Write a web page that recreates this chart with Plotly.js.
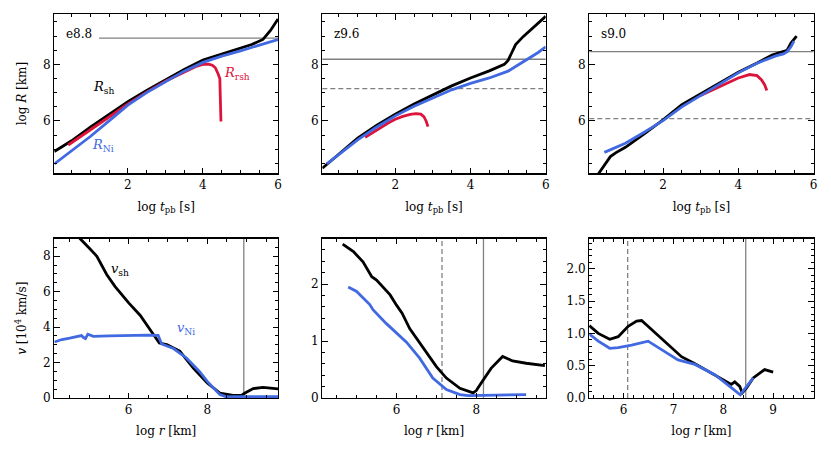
<!DOCTYPE html>
<html>
<head>
<meta charset="utf-8">
<script src="https://cdn.plot.ly/plotly-3.0.1.min.js"></script>
<style>html,body{margin:0;padding:0;background:#fff;}#chart{width:831px;height:456px;}</style>
</head>
<body>
<div id="chart"></div>
<script>
// ---------- data: top row, log R vs log t_pb ----------
const t_e88_sh  = [0.04, 0.5, 1.0, 1.5, 2.0, 2.5, 3.0, 3.5, 4.0, 4.5, 5.0, 5.3, 5.6, 5.8, 6.0];
const R_e88_sh  = [4.92, 5.30, 5.78, 6.22, 6.68, 7.08, 7.45, 7.82, 8.15, 8.36, 8.56, 8.70, 8.88, 9.20, 9.60];
const t_e88_ni  = [0.04, 0.5, 1.0, 1.5, 2.0, 2.5, 3.0, 3.5, 4.0, 4.5, 5.0, 5.5, 6.0];
const R_e88_ni  = [4.48, 4.95, 5.45, 6.00, 6.56, 7.00, 7.39, 7.76, 8.07, 8.29, 8.48, 8.68, 8.88];
const t_e88_rsh = [0.41, 1.0, 1.5, 2.0, 2.5, 3.0, 3.5, 3.8, 4.0, 4.15, 4.25, 4.33, 4.4, 4.45, 4.48];
const R_e88_rsh = [5.15, 5.70, 6.14, 6.60, 7.02, 7.40, 7.74, 7.92, 8.00, 8.01, 7.97, 7.88, 7.68, 7.50, 5.98];

const t_z96_sh  = [0.06, 0.5, 1.0, 1.5, 2.0, 2.5, 3.0, 3.5, 4.0, 4.5, 4.9, 5.0, 5.1, 5.2, 5.4, 5.6, 5.8, 6.0];
const R_z96_sh  = [4.33, 4.84, 5.39, 5.84, 6.24, 6.60, 6.92, 7.24, 7.52, 7.77, 8.00, 8.14, 8.42, 8.70, 8.98, 9.22, 9.46, 9.70];
const t_z96_ni  = [0.18, 0.5, 1.0, 1.5, 2.0, 2.5, 3.0, 3.5, 4.0, 4.5, 5.0, 5.5, 5.8, 6.0];
const R_z96_ni  = [4.48, 4.82, 5.33, 5.78, 6.18, 6.52, 6.82, 7.10, 7.33, 7.52, 7.76, 8.17, 8.42, 8.62];
const t_z96_rsh = [1.2, 1.5, 1.8, 2.0, 2.2, 2.4, 2.55, 2.68, 2.76, 2.82, 2.87];
const R_z96_rsh = [5.42, 5.68, 5.92, 6.06, 6.16, 6.23, 6.26, 6.24, 6.15, 6.00, 5.80];

const t_s90_sh  = [0.24, 0.45, 0.6, 0.75, 1.0, 1.5, 2.0, 2.5, 3.0, 3.5, 4.0, 4.5, 4.9, 5.1, 5.3, 5.4, 5.55];
const R_s90_sh  = [4.05, 4.45, 4.74, 4.88, 5.07, 5.54, 6.04, 6.58, 6.95, 7.33, 7.72, 8.05, 8.33, 8.42, 8.50, 8.75, 9.00];
const t_s90_ni  = [0.44, 1.0, 1.5, 2.0, 2.5, 3.0, 3.5, 4.0, 4.5, 5.0, 5.2, 5.3, 5.4, 5.48];
const R_s90_ni  = [4.89, 5.21, 5.60, 6.01, 6.50, 6.90, 7.30, 7.70, 8.04, 8.30, 8.37, 8.45, 8.62, 8.82];
const t_s90_rsh = [3.0, 3.5, 4.0, 4.3, 4.5, 4.62, 4.7, 4.76];
const R_s90_rsh = [6.90, 7.22, 7.52, 7.64, 7.60, 7.45, 7.28, 7.08];

// ---------- data: bottom row, v vs log r ----------
const r_e88_sh = [4.7, 4.76, 5.0, 5.19, 5.44, 5.65, 6.0, 6.29, 6.63, 6.78, 6.97, 7.3, 7.64, 8.0, 8.32, 8.66, 8.87, 8.96, 9.17, 9.42, 9.8];
const v_e88_sh = [9.2, 9.0, 8.45, 8.0, 6.97, 6.3, 5.37, 4.67, 3.58, 3.1, 3.01, 2.64, 1.7, 0.85, 0.28, 0.15, 0.14, 0.28, 0.53, 0.6, 0.51];
const r_e88_ni = [4.11, 4.3, 4.5, 4.7, 4.8, 4.86, 4.9, 4.96, 5.1, 5.5, 6.0, 6.5, 6.75, 6.8, 6.84, 7.14, 7.47, 7.8, 8.0, 8.32, 8.49, 8.7, 9.8];
const v_e88_ni = [3.16, 3.30, 3.38, 3.45, 3.52, 3.40, 3.35, 3.60, 3.48, 3.50, 3.54, 3.55, 3.54, 3.30, 3.05, 2.79, 2.26, 1.50, 0.94, 0.19, 0.06, 0.08, 0.08];

const r_z96_sh = [4.65, 4.92, 5.16, 5.38, 5.50, 5.84, 6.00, 6.14, 6.33, 6.67, 7.00, 7.25, 7.59, 7.92, 8.00, 8.12, 8.37, 8.66, 8.91, 9.25, 9.72];
const v_z96_sh = [2.70, 2.57, 2.39, 2.13, 2.07, 1.81, 1.63, 1.49, 1.22, 0.87, 0.55, 0.35, 0.17, 0.09, 0.13, 0.26, 0.52, 0.73, 0.65, 0.61, 0.57];
const r_z96_ni = [4.79, 5.00, 5.33, 5.41, 5.74, 6.25, 6.58, 6.91, 7.25, 7.59, 7.80, 8.44, 9.25];
const v_z96_ni = [1.95, 1.87, 1.64, 1.55, 1.31, 0.98, 0.70, 0.35, 0.15, 0.06, 0.04, 0.05, 0.06];

const r_s90_sh = [5.31, 5.49, 5.72, 5.89, 6.09, 6.26, 6.36, 6.56, 6.83, 7.16, 7.43, 7.83, 8.16, 8.23, 8.33, 8.38, 8.46, 8.6, 8.83, 9.0];
const v_s90_sh = [1.12, 1.00, 0.91, 0.95, 1.11, 1.19, 1.20, 1.06, 0.88, 0.64, 0.53, 0.36, 0.21, 0.25, 0.18, 0.08, 0.15, 0.31, 0.44, 0.40];
const r_s90_ni = [5.31, 5.49, 5.72, 5.89, 6.16, 6.49, 6.76, 7.09, 7.43, 7.83, 8.16, 8.34, 8.43, 8.6];
const v_s90_ni = [0.99, 0.88, 0.77, 0.78, 0.82, 0.88, 0.75, 0.59, 0.52, 0.36, 0.16, 0.05, 0.14, 0.31];

// reference radii (log km): solid and dashed
const models     = ["e8.8", "z9.6", "s9.0"];
const refSolid   = [8.93, 8.18, 8.45];
const refDashed  = [null, 7.14, 6.08];

const BLACK = "#000000", BLUE = "#4169E1", RED = "#DC143C", GREY = "#808080";
const FONT = "DejaVu Serif, Liberation Serif, serif";

function tr(x, y, color, xa, ya, w) {
  return {x: x, y: y, type: "scatter", mode: "lines", xaxis: xa, yaxis: ya,
          line: {color: color, width: w || 2.8}, showlegend: false, hoverinfo: "skip"};
}

const data = [
  tr(t_e88_sh, R_e88_sh, BLACK, "x", "y"),
  tr(t_e88_rsh, R_e88_rsh, RED, "x", "y"),
  tr(t_e88_ni, R_e88_ni, BLUE, "x", "y"),
  tr(t_z96_sh, R_z96_sh, BLACK, "x2", "y2"),
  tr(t_z96_rsh, R_z96_rsh, RED, "x2", "y2"),
  tr(t_z96_ni, R_z96_ni, BLUE, "x2", "y2"),
  tr(t_s90_sh, R_s90_sh, BLACK, "x3", "y3"),
  tr(t_s90_rsh, R_s90_rsh, RED, "x3", "y3"),
  tr(t_s90_ni, R_s90_ni, BLUE, "x3", "y3"),
  tr(r_e88_sh, v_e88_sh, BLACK, "x4", "y4"),
  tr(r_e88_ni, v_e88_ni, BLUE, "x4", "y4"),
  tr(r_z96_sh, v_z96_sh, BLACK, "x5", "y5"),
  tr(r_z96_ni, v_z96_ni, BLUE, "x5", "y5"),
  tr(r_s90_sh, v_s90_sh, BLACK, "x6", "y6"),
  tr(r_s90_ni, v_s90_ni, BLUE, "x6", "y6")
];

const W = 831, H = 456;
const colX = [[54.3, 278], [322.3, 545.7], [589.3, 813.5]];
const rowTop = [14, 173.3], rowBot = [238.5, 398];
const TF = {family: FONT, size: 12, color: "#000"};

function mn(d) { return {dtick: d, ticks: "inside", ticklen: 3, tickwidth: 1, tickcolor: "#000"}; }
function ax(extra) {
  return Object.assign({
    showline: true, linecolor: "#000", linewidth: 1.2, mirror: "allticks",
    ticks: "inside", ticklen: 5.5, tickwidth: 1, tickcolor: "#000",
    showgrid: false, zeroline: false,
    tickfont: {family: FONT, size: 12, color: "#000"}
  }, extra);
}
function dom(c) { return [colX[c][0] / W, colX[c][1] / W]; }
function ydom(r) { return [1 - r[1] / H, 1 - r[0] / H]; }

const xTopTitle = "log <i>t</i><sub>pb</sub> [s]";
const xBotTitle = "log <i>r</i> [km]";

const layout = {
  width: W, height: H, margin: {l: 0, r: 0, t: 0, b: 0},
  paper_bgcolor: "#fff", plot_bgcolor: "#fff",
  font: {family: FONT, size: 12, color: "#000"},
  xaxis:  ax({domain: dom(0), anchor: "y",  range: [0.04, 6], dtick: 2, minor: mn(0.5), title: {text: xTopTitle, standoff: 11, font: TF}}),
  xaxis2: ax({domain: dom(1), anchor: "y2", range: [0.06, 6], dtick: 2, minor: mn(0.5), title: {text: xTopTitle, standoff: 11, font: TF}}),
  xaxis3: ax({domain: dom(2), anchor: "y3", range: [0.04, 6], dtick: 2, minor: mn(0.5), title: {text: xTopTitle, standoff: 11, font: TF}}),
  yaxis:  ax({domain: ydom(rowTop), anchor: "x",  range: [4.15, 9.78], dtick: 2, minor: mn(0.5), title: {text: "log <i>R</i> [km]", standoff: 13, font: TF}}),
  yaxis2: ax({domain: ydom(rowTop), anchor: "x2", range: [4.15, 9.78], dtick: 2, minor: mn(0.5)}),
  yaxis3: ax({domain: ydom(rowTop), anchor: "x3", range: [4.15, 9.78], dtick: 2, minor: mn(0.5)}),
  xaxis4: ax({domain: dom(0), anchor: "y4", range: [4.107, 9.8], dtick: 2, minor: mn(0.5), title: {text: xBotTitle, standoff: 11, font: TF}}),
  xaxis5: ax({domain: dom(1), anchor: "y5", range: [4.14, 9.74], dtick: 2, minor: mn(0.5), title: {text: xBotTitle, standoff: 11, font: TF}}),
  xaxis6: ax({domain: dom(2), anchor: "y6", range: [5.31, 9.81], dtick: 1, minor: mn(0.2), title: {text: xBotTitle, standoff: 11, font: TF}}),
  yaxis4: ax({domain: ydom(rowBot), anchor: "x4", range: [0, 9], dtick: 2, minor: mn(0.5), title: {text: "<i>v</i> [10<sup>4</sup> km/s]", standoff: 13, font: TF}}),
  yaxis5: ax({domain: ydom(rowBot), anchor: "x5", range: [0, 2.8], dtick: 1, minor: mn(0.2)}),
  yaxis6: ax({domain: ydom(rowBot), anchor: "x6", range: [0, 2.47], dtick: 0.5, tickformat: ".1f", minor: mn(0.1)}),
  shapes: [],
  annotations: []
};

// reference lines
const topAxes = [["x", "y"], ["x2", "y2"], ["x3", "y3"]];
const botAxes = [["x4", "y4"], ["x5", "y5"], ["x6", "y6"]];
const lineStart = [0.2, 0, 0]; // fraction of panel width where the horizontal reference line begins
for (let i = 0; i < 3; i++) {
  layout.shapes.push({type: "line", xref: topAxes[i][0] + " domain", yref: topAxes[i][1], x0: lineStart[i], x1: 1, y0: refSolid[i], y1: refSolid[i], line: {color: GREY, width: 1.3}, layer: "below"});
  layout.shapes.push({type: "line", xref: botAxes[i][0], yref: botAxes[i][1] + " domain", x0: refSolid[i], x1: refSolid[i], y0: 0, y1: 1, line: {color: GREY, width: 1.3}, layer: "below"});
  if (refDashed[i] !== null) {
    layout.shapes.push({type: "line", xref: topAxes[i][0] + " domain", yref: topAxes[i][1], x0: 0, x1: 1, y0: refDashed[i], y1: refDashed[i], line: {color: GREY, width: 1.3, dash: "5px,3px"}, layer: "below"});
    layout.shapes.push({type: "line", xref: botAxes[i][0], yref: botAxes[i][1] + " domain", x0: refDashed[i], x1: refDashed[i], y0: 0, y1: 1, line: {color: GREY, width: 1.3, dash: "5px,3px"}, layer: "below"});
  }
  layout.annotations.push({xref: topAxes[i][0] + " domain", yref: topAxes[i][1] + " domain", x: 0.045, y: 0.874, xanchor: "left", yanchor: "middle",
    text: models[i], showarrow: false, font: {family: FONT, size: 12, color: "#000"}});
}

function lab(xa, ya, x, y, text, color) {
  layout.annotations.push({xref: xa, yref: ya, x: x, y: y, text: text, showarrow: false,
    font: {family: FONT, size: 13, color: color}, xanchor: "center", yanchor: "middle"});
}
lab("x", "y", 1.35, 7.19, "<i>R</i><sub>sh</sub>", BLACK);
lab("x", "y", 4.9, 7.66, "<i>R</i><sub>rsh</sub>", RED);
lab("x", "y", 1.35, 5.15, "<i>R</i><sub>Ni</sub>", BLUE);
lab("x4", "y4", 5.78, 7.25, "<i>v</i><sub>sh</sub>", BLACK);
lab("x4", "y4", 7.47, 3.95, "<i>v</i><sub>Ni</sub>", BLUE);

Plotly.newPlot("chart", data, layout, {staticPlot: true, displayModeBar: false});
</script>
</body>
</html>
